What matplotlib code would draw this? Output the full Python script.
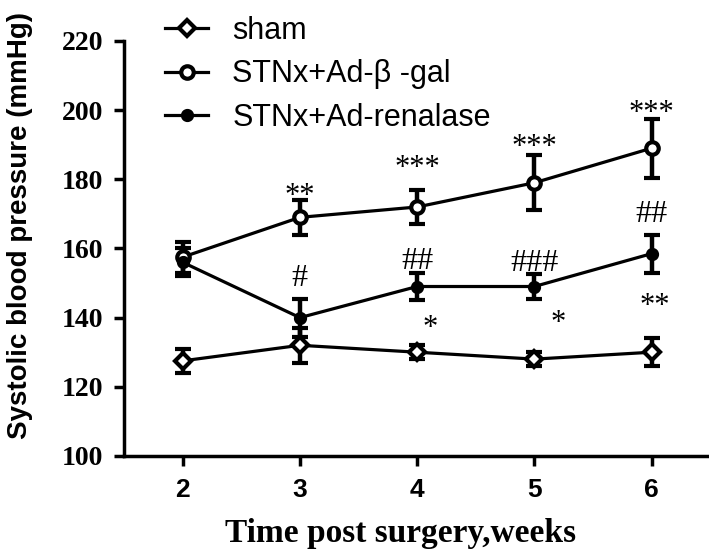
import matplotlib
matplotlib.use("Agg")
import matplotlib.pyplot as plt
from matplotlib.lines import Line2D

# data
weeks = [2, 3, 4, 5, 6]
shamMean = [127.5, 132, 130, 128, 130]
shamErr = [3.4, 5, 2, 2, 4]
galMean = [157.5, 169, 172, 179, 189]
galErr = [4.5, 5, 5, 8, 8.5]
renMean = [156, 140, 149, 149, 158.5]
renErr = [4, 5.5, 4, 3.5, 5.5]
seriesNames = ["sham", "STNx+Ad-β -gal", "STNx+Ad-renalase"]

# significance marks: (x, y, text)
starMarks = [(3, 177.5, "**"), (4, 185.5, "***"), (5, 191.5, "***"),
             (6, 201.5, "***"), (4.11, 139.3, "*"), (5.2, 140.8, "*"),
             (6.03, 145.7, "**")]
hashMarks = [(3, 151.8, "#"), (4, 156.5, "##"), (5, 156, "###"),
             (6, 170.3, "##")]

fig = plt.figure(figsize=(7.09, 5.54), dpi=100)
ax = fig.add_axes([0.175, 0.177, 0.83, 0.749])

lineW = 2.3
common = dict(color="black", linewidth=lineW, elinewidth=3.2, capsize=5.5,
              capthick=3.5, markeredgewidth=3, markeredgecolor="black")
styles = [
    dict(marker="D", markersize=8, markerfacecolor="white"),
    dict(marker="o", markersize=9, markerfacecolor="white"),
    dict(marker="o", markersize=6.5, markerfacecolor="black"),
]
allMean = [shamMean, galMean, renMean]
allErr = [shamErr, galErr, renErr]
for mean, err, st in zip(allMean, allErr, styles):
    ax.errorbar(weeks, mean, yerr=err, **st, **common)

for x, y, t in starMarks:
    ax.annotate(t, (x, y), xytext=(0, -6), textcoords="offset points",
                ha="center", va="center", fontsize=22,
                family="Liberation Serif")
for x, y, t in hashMarks:
    ax.annotate(t, (x, y), xytext=(0, -1), textcoords="offset points",
                ha="center", va="center", fontsize=23,
                family="Liberation Serif")

ax.set_xlim(1.5, 6.52)
ax.set_ylim(100, 220)
ax.set_xticks(weeks)
ax.set_yticks(range(100, 221, 20))
ax.spines["top"].set_visible(False)
ax.spines["right"].set_visible(False)
ax.spines["left"].set_linewidth(2.5)
ax.spines["bottom"].set_linewidth(2.5)
ax.tick_params(width=2.5, length=7)
ax.tick_params(axis="x", pad=9)
ax.tick_params(axis="y", pad=8)

for lbl in ax.get_xticklabels():
    lbl.set_fontfamily("Liberation Sans")
    lbl.set_fontweight("bold")
    lbl.set_fontsize(19)
for lbl in ax.get_yticklabels():
    lbl.set_fontfamily("Liberation Serif")
    lbl.set_fontweight("bold")
    lbl.set_fontsize(20)

ax.set_xlabel("Time post surgery,weeks", family="Liberation Serif",
              fontweight="bold", fontsize=24)
ax.xaxis.set_label_coords(0.47, -0.15)
ax.set_ylabel("Systolic blood pressure (mmHg)", family="Liberation Sans",
              fontweight="bold", fontsize=20)
ax.yaxis.set_label_coords(-0.155, 0.555)

# legend handles without the error bars, as in the reference
handles = [Line2D([], [], color="black", linewidth=lineW,
                  markeredgecolor="black", markeredgewidth=3, **st)
           for st in styles]
fig.legend(handles, seriesNames, loc="upper left",
           bbox_to_anchor=(0.233, 0.972), frameon=False,
           prop={"family": "Liberation Sans", "size": 22},
           handlelength=1.4, labelspacing=0.45, handletextpad=0.8,
           borderpad=0, borderaxespad=0)

fig.savefig("out.png", dpi=100)
